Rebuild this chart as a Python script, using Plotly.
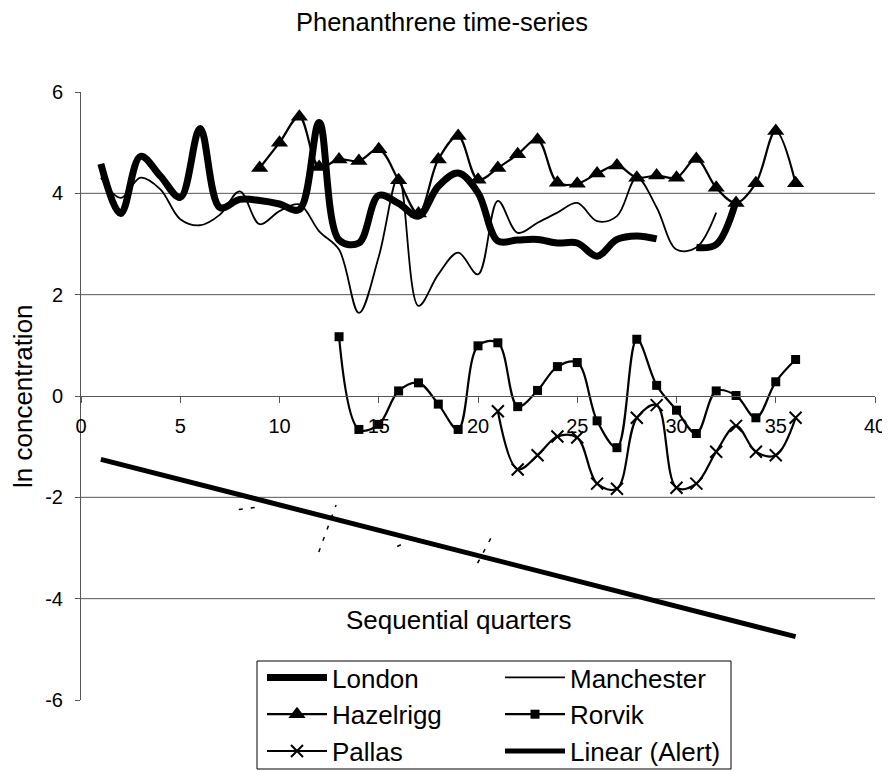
import plotly.graph_objects as go

# ---- data ----
london_x = list(range(1, 34))
london_y = [4.58, 3.60, 4.73, 4.34, 3.92, 5.28, 3.72, 3.88, 3.86, 3.79, 3.68, 5.40,
            3.08, 3.02, 3.96, 3.80, 3.55, 4.14, 4.40, 4.01, 3.06, 3.08, 3.09, 3.02,
            3.02, 2.76, 3.09, 3.16, 3.10, None, 2.93, 2.99, 3.85]

manchester_x = list(range(1, 33))
manchester_y = [4.31, 3.91, 4.31, 4.08, 3.49, 3.37, 3.58, 4.04, 3.39, 3.65, 3.78, 3.25,
                2.89, 1.64, 2.75, 4.34, 1.78, 2.40, 2.83, 2.40, 3.85, 3.22, 3.42, 3.62,
                3.81, 3.45, 3.55, 4.31, 3.72, 2.89, 2.93, 3.62]

hazelrigg_x = list(range(9, 37))
hazelrigg_y = [4.50, 5.00, 5.51, 4.52, 4.67, 4.64, 4.87, 4.26, 3.60, 4.67, 5.13, 4.27,
               4.50, 4.77, 5.06, 4.21, 4.19, 4.39, 4.55, 4.31, 4.35, 4.31, 4.68, 4.11,
               3.81, 4.20, 5.23, 4.20]

rorvik_x = list(range(13, 37))
rorvik_y = [1.17, -0.66, -0.56, 0.10, 0.26, -0.16, -0.66, 0.99, 1.05, -0.21, 0.11, 0.58,
            0.66, -0.49, -1.02, 1.12, 0.21, -0.28, -0.74, 0.10, 0.01, -0.43, 0.28, 0.72]

pallas_x = list(range(21, 37))
pallas_y = [-0.30, -1.45, -1.17, -0.80, -0.82, -1.73, -1.83, -0.43, -0.18, -1.81,
            -1.73, -1.10, -0.59, -1.10, -1.17, -0.43]

alert_trend_x = [1, 36]
alert_trend_y = [-1.25, -4.75]

alert_frag_x = [7.95, 8.95, None, 11.98, 12.85, None, 15.93, 16.15, None, 19.98, 20.82]
alert_frag_y = [-2.24, -2.19, None, -3.08, -2.15, None, -2.97, -2.93, None, -3.30, -2.68]

x_ticks = [0, 5, 10, 15, 20, 25, 30, 35, 40]
y_ticks = [-6, -4, -2, 0, 2, 4, 6]
grid_vals = [-4, -2, 2, 4]

FONT = "Liberation Sans, Arial, sans-serif"
AXIS_COL = "#555555"

# page geometry: the browser page adds an 8px body margin, so the figure is
# laid out 8px up/left of the target screen positions.
W, H = 890, 771
OFF = 8
# target plot area on screen: x 80.7..875, y 92.5..700
PL, PR, PT, PB = 81 - OFF, 875 - OFF, 92 - OFF, 700 - OFF
ML, MR, MT, MB = PL, W - PR, PT, H - PB
PW, PH = PR - PL, PB - PT


def px_x(p):
    return (p - OFF - ML) / PW


def px_y(p):
    return (PB - (p - OFF)) / PH


fig = go.Figure()

fig.add_trace(go.Scatter(
    x=alert_frag_x, y=alert_frag_y, mode="lines", showlegend=False,
    line=dict(color="black", width=1.5, dash="4px,8px"), hoverinfo="skip"))

fig.add_trace(go.Scatter(
    x=london_x, y=london_y, name="London", mode="lines", legend="legend",
    line=dict(color="black", width=7, shape="spline", smoothing=1)))
fig.add_trace(go.Scatter(
    x=manchester_x, y=manchester_y, name="Manchester", mode="lines", legend="legend2",
    line=dict(color="black", width=1.8, shape="spline", smoothing=1)))
fig.add_trace(go.Scatter(
    x=hazelrigg_x, y=hazelrigg_y, name="Hazelrigg", mode="lines+markers", legend="legend",
    line=dict(color="black", width=2.2, shape="spline", smoothing=1),
    marker=dict(symbol="triangle-up", size=15, color="black")))
fig.add_trace(go.Scatter(
    x=rorvik_x, y=rorvik_y, name="Rorvik", mode="lines+markers", legend="legend2",
    line=dict(color="black", width=2.2, shape="spline", smoothing=1),
    marker=dict(symbol="square", size=9, color="black")))
fig.add_trace(go.Scatter(
    x=pallas_x, y=pallas_y, name="Pallas", mode="lines+markers", legend="legend",
    line=dict(color="black", width=2.2, shape="spline", smoothing=1),
    marker=dict(symbol="x-thin", size=12, color="black",
                line=dict(color="black", width=2))))
fig.add_trace(go.Scatter(
    x=alert_trend_x, y=alert_trend_y, name="Linear (Alert)", mode="lines", legend="legend2",
    line=dict(color="black", width=5)))

for v in grid_vals:
    fig.add_hline(y=v, line=dict(color=AXIS_COL, width=1), layer="below")

# legend frame
fig.add_shape(type="rect", xref="paper", yref="paper",
              x0=px_x(257), x1=px_x(731), y0=px_y(769), y1=px_y(661),
              line=dict(color="black", width=1), fillcolor="white", layer="above")

legend_common = dict(
    orientation="v", xanchor="left", yanchor="top",
    bgcolor="rgba(0,0,0,0)", borderwidth=0,
    font=dict(family=FONT, size=26, color="black"),
    itemwidth=60, traceorder="normal")

fig.update_layout(
    width=W, height=H,
    margin=dict(l=ML, r=MR, t=MT, b=MB, autoexpand=False),
    paper_bgcolor="white", plot_bgcolor="white",
    font=dict(family=FONT, color="black"),
    title=dict(text="Phenanthrene time-series", x=(442 - OFF) / W, xanchor="center",
               y=1 - (22 - OFF) / H, yanchor="middle",
               font=dict(family=FONT, size=25.5, color="black")),
    xaxis=dict(range=[0, 40], tickvals=x_ticks, ticktext=[str(v) for v in x_ticks],
               showgrid=False, zeroline=False,
               showline=True, linecolor=AXIS_COL, linewidth=1,
               ticks="outside", ticklen=6, tickcolor=AXIS_COL,
               anchor="free", position=0.5, ticklabelstandoff=6,
               tickfont=dict(family=FONT, size=20, color="black")),
    yaxis=dict(range=[-6, 6], tickvals=y_ticks, ticktext=[str(v) for v in y_ticks],
               showgrid=False, zeroline=False,
               showline=True, linecolor=AXIS_COL, linewidth=1,
               ticks="outside", ticklen=5, tickcolor=AXIS_COL,
               ticklabelstandoff=8,
               tickfont=dict(family=FONT, size=20, color="black")),
    legend=dict(x=px_x(262), y=px_y(654), **legend_common),
    legend2=dict(x=px_x(500), y=px_y(654), **legend_common),
    annotations=[
        dict(text="Sequential quarters", xref="paper", yref="paper",
             x=px_x(458), y=px_y(620), xanchor="center",
             yanchor="middle", showarrow=False,
             font=dict(family=FONT, size=26, color="black")),
        dict(text="ln concentration", xref="paper", yref="paper",
             x=px_x(23), y=0.5, xanchor="center", yanchor="middle",
             textangle=-90, showarrow=False,
             font=dict(family=FONT, size=26, color="black")),
    ],
)

fig.write_html("out.html")
